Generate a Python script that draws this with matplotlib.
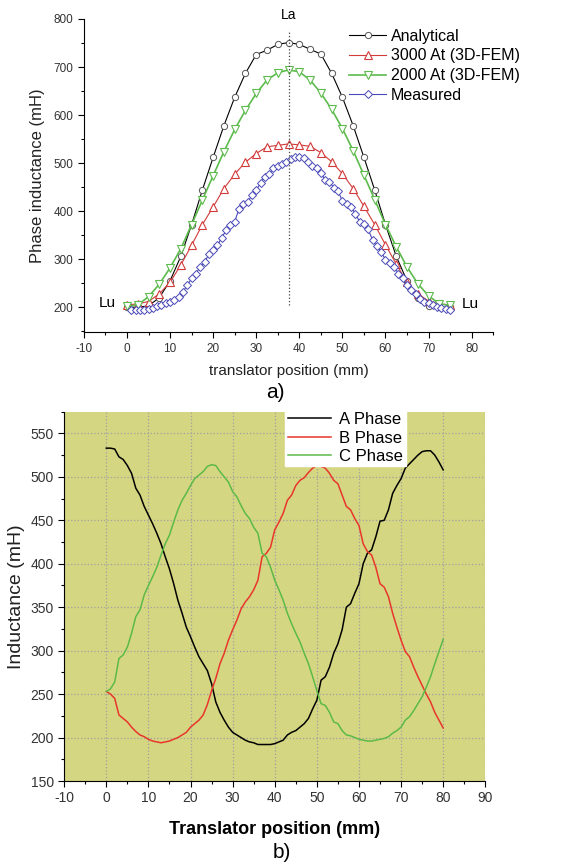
import matplotlib
matplotlib.use("Agg")
import matplotlib.pyplot as plt
import numpy as np
from matplotlib.ticker import MultipleLocator

plt.rcParams['font.family'] = ['Liberation Sans', 'DejaVu Sans']
plt.rcParams['axes.unicode_minus'] = False

# ---- panel a) data ----
x_calc = np.arange(0, 77.5, 2.5)
analytical = [200, 200, 203, 220, 255, 306, 372, 444, 512, 578, 637, 687, 726, 735, 747, 751,
              747, 737, 727, 687, 637, 578, 512, 444, 372, 306, 255, 220, 203, 200, 200]
fem_3000 = [205, 207, 212, 228, 252, 288, 329, 372, 409, 447, 477, 502, 520, 534, 537, 540,
            538, 535, 522, 503, 478, 447, 410, 372, 330, 290, 252, 228, 213, 207, 205]
fem_2000 = [202, 205, 222, 248, 282, 322, 372, 423, 474, 524, 570, 610, 645, 673, 688, 694,
            690, 673, 646, 612, 572, 526, 475, 424, 372, 326, 284, 249, 224, 207, 204]
x_meas = np.arange(1, 76)
measured = [194, 194, 194, 195, 197, 199, 202, 204, 208, 211,
            216, 222, 232, 246, 260, 270, 284, 294, 310, 320,
            329, 345, 360, 371, 378, 405, 414, 419, 433, 444,
            458, 472, 478, 489, 494, 499, 503, 508, 512, 512,
            510, 503, 494, 490, 480, 465, 461, 449, 442, 421,
            415, 409, 395, 378, 373, 362, 340, 327, 315, 299,
            292, 284, 270, 260, 246, 235, 227, 218, 211, 208,
            204, 201, 199, 197, 195]
x_aligned = 37.5

# ---- panel b) data ----
x_phase = np.arange(0, 81)
phase_a = [533, 533, 532, 523, 520, 513, 504, 487, 479, 466, 456, 446, 435, 423, 408, 394, 377,
           358, 343, 327, 316, 304, 293, 285, 277, 262, 241, 229, 220, 212, 206, 203, 200, 197,
           195, 194, 192, 192, 192, 192, 193, 195, 197, 203, 206, 208, 212, 216, 222, 233, 243,
           266, 270, 281, 297, 308, 324, 350, 354, 366, 377, 400, 412, 416, 431, 449, 450, 462,
           481, 490, 498, 510, 515, 520, 525, 529, 530, 530, 525, 517, 508]
phase_b = [253, 250, 245, 226, 222, 218, 212, 207, 203, 201, 198, 196, 195, 194, 195, 196, 198,
           200, 203, 206, 212, 216, 220, 226, 238, 254, 268, 285, 297, 312, 324, 335, 348, 356,
           362, 370, 381, 408, 412, 419, 439, 448, 458, 473, 479, 490, 496, 499, 505, 510, 513,
           512, 510, 504, 496, 492, 479, 466, 462, 452, 444, 423, 414, 410, 396, 377, 373, 362,
           343, 327, 312, 299, 293, 281, 270, 260, 250, 241, 229, 220, 211]
phase_c = [253, 256, 264, 291, 295, 304, 320, 339, 347, 364, 375, 385, 396, 410, 423, 433, 448,
           462, 473, 481, 490, 498, 502, 506, 512, 514, 513, 506, 500, 494, 483, 477, 467, 458,
           452, 442, 435, 412, 408, 396, 381, 370, 358, 343, 331, 320, 310, 297, 285, 270, 254,
           239, 237, 229, 218, 216, 208, 203, 202, 200, 198, 197, 196, 196, 197, 198, 199, 201,
           205, 208, 212, 220, 224, 231, 239, 247, 258, 270, 285, 299, 313]

fig = plt.figure(figsize=(5.63, 8.63), dpi=100)

# ================= panel a =================
ax1 = fig.add_axes([0.149, 0.615, 0.727, 0.363])
ax1.plot(x_calc, analytical, '-o', color='black', lw=0.8, ms=4.5, mfc='white', mec='#555555',
         mew=0.7, label='Analytical')
ax1.plot(x_calc, fem_3000, '-^', color='#d23a3a', lw=0.8, ms=5.5, mfc='white', mec='#d23a3a',
         mew=0.8, label='3000 At (3D-FEM)')
ax1.plot(x_calc, fem_2000, '-v', color='#5cbb4c', lw=1.2, ms=5.5, mfc='white', mec='#5cbb4c',
         mew=0.8, label='2000 At (3D-FEM)')
ax1.plot(x_meas, measured, '-D', color='#4a4ab8', lw=0.8, ms=4, mfc='white', mec='#4a4ab8',
         mew=0.7, label='Measured')
ax1.plot([x_aligned, x_aligned], [205, 778], ':', color='#444444', lw=0.9)

ax1.set_xlim(-10, 85)
ax1.set_ylim(148, 800)
ax1.xaxis.set_major_locator(MultipleLocator(10))
ax1.xaxis.set_minor_locator(MultipleLocator(5))
ax1.yaxis.set_minor_locator(MultipleLocator(50))
ax1.yaxis.set_ticks([200, 300, 400, 500, 600, 700, 800])
ax1.tick_params(which='major', direction='out', length=4, width=0.8, labelsize=8.5,
                labelcolor='#333333')
ax1.tick_params(which='minor', direction='out', length=2.5, width=0.8)
ax1.spines['top'].set_visible(False)
ax1.spines['right'].set_visible(False)
ax1.set_xlabel('translator position (mm)', fontsize=11, color='#222222', labelpad=7)
ax1.set_ylabel('Phase inductance (mH)', fontsize=12, color='#222222', labelpad=6)

ax1.text(x_aligned, 808, 'La', ha='center', va='center', fontsize=10)
ax1.text(-4.6, 208, 'Lu', ha='center', va='center', fontsize=11)
ax1.text(79.8, 206, 'Lu', ha='center', va='center', fontsize=11)

leg1 = ax1.legend(loc='upper left', bbox_to_anchor=(0.625, 1.0), frameon=False, fontsize=11.5,
                  handlelength=2.3, handletextpad=0.3, labelspacing=0.3, borderaxespad=0.2)
leg1.set_clip_on(False)

fig.text(0.49, 0.545, 'a)', ha='center', va='center', fontsize=15)

# ================= panel b =================
ax2 = fig.add_axes([0.114, 0.095, 0.748, 0.428])
ax2.set_facecolor('#d5d682')
ax2.plot(x_phase, phase_a, color='black', lw=1.1, label='A Phase')
ax2.plot(x_phase, phase_b, color='#e8362c', lw=1.1, label='B Phase')
ax2.plot(x_phase, phase_c, color='#5bba49', lw=1.1, label='C Phase')

ax2.set_xlim(-10, 90)
ax2.set_ylim(150, 575)
ax2.xaxis.set_major_locator(MultipleLocator(10))
ax2.xaxis.set_minor_locator(MultipleLocator(5))
ax2.yaxis.set_minor_locator(MultipleLocator(25))
ax2.yaxis.set_ticks(np.arange(150, 551, 50))
ax2.grid(True, which='major', linestyle=':', color='#a0a0a0', lw=0.9)
ax2.set_axisbelow(True)
ax2.tick_params(which='major', direction='out', length=4, width=0.8, labelsize=10,
                labelcolor='#333333')
ax2.tick_params(which='minor', direction='out', length=2.5, width=0.8)
ax2.spines['top'].set_visible(False)
ax2.spines['right'].set_visible(False)
ax2.set_xlabel('Translator position (mm)', fontsize=13, fontweight='bold', labelpad=11)
ax2.set_ylabel('Inductance (mH)', fontsize=14, color='#222222', labelpad=4)

leg2 = ax2.legend(loc='upper left', bbox_to_anchor=(0.525, 1.005), fontsize=12,
                  handlelength=2.6, handletextpad=0.5, labelspacing=0.2, borderpad=0.15,
                  borderaxespad=0.0, fancybox=False, framealpha=1.0, edgecolor='white')

fig.text(0.50, 0.0127, 'b)', ha='center', va='center', fontsize=15)

fig.savefig('out.png', dpi=100)
